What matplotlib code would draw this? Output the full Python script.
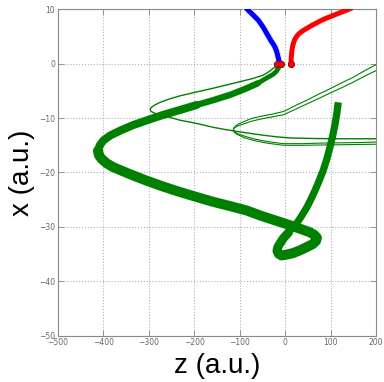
import matplotlib
matplotlib.use("Agg")
import matplotlib.pyplot as plt

# ---- data (z, x) ----
blue_z = [-83, -77, -71, -65, -59, -54, -49, -44, -40, -35, -31, -26, -22, -18, -15.4, -13.5, -12]
blue_x = [10, 9.5, 9, 8.5, 8, 7.4, 6.8, 6.1, 5.5, 4.8, 4.2, 3.6, 3, 2.1, 1.2, 0.5, 0]

red_z = [13, 13.2, 13.6, 14.2, 15.0, 16.0, 17.2, 18.5, 20.5, 23, 26, 30, 35, 41, 48, 56, 65, 75, 86, 98, 110, 122, 133, 143]
red_x = [0, 0.6, 1.2, 1.8, 2.4, 2.9, 3.4, 3.8, 4.3, 4.7, 5.1, 5.45, 5.8, 6.15, 6.5, 6.9, 7.3, 7.75, 8.2, 8.6, 9.0, 9.4, 9.75, 10.1]

dots_z = [-18, -10, 13]
dots_x = [0, 0, 0]

# thick trajectory (one continuous path)
thick_z = [-11, -14, -19, -27, -40, -60, -84, -120, -158, -195, -231, -268, -304, -335, -363, -385, -400, -408,
           -412, -410, -404, -393, -379, -342, -305, -268, -231, -195, -158, -120, -84, -55, -22, 11, 35, 55, 65, 70,
           68, 60, 48, 33, 18, 3, -8, -15, -18, -16, -11, -3, 7, 16, 26, 37, 48, 57, 66, 75, 84, 92, 99, 105, 110, 114, 117]
thick_x = [0, -0.7, -1.4, -2.0, -2.6, -3.6, -4.5, -5.7, -6.7, -7.6, -8.5, -9.4, -10.4, -11.3, -12.3, -13.2, -14.1, -15.0,
           -16.0, -16.8, -17.5, -18.3, -19.0, -20.3, -21.5, -22.6, -23.6, -24.5, -25.4, -26.2, -27.0, -27.9, -28.8, -29.7, -30.4, -31.0, -31.5, -32.0,
           -32.6, -33.2, -33.7, -34.3, -34.8, -35.1, -35.25, -35.0, -34.4, -33.7, -33.0, -32.0, -31.1, -30.2, -29.3, -27.9, -26.4, -24.9, -23.3, -21.5, -19.6, -17.5, -15.3, -13.2, -11.1, -9.1, -7.1]

thinA_z = [-15, -20, -27, -33, -40, -48, -70, -99, -128, -158, -195, -231, -255, -275, -287, -293, -296, -297,
           -295, -290, -280, -268, -250, -231, -212, -194, -176, -158, -132, -106, -78, -48, -18, 11, 60, 110, 155, 202]
thinA_x = [0, -0.5, -0.9, -1.3, -1.7, -2.1, -2.7, -3.3, -3.9, -4.5, -5.2, -5.9, -6.5, -7.1, -7.6, -7.95, -8.2, -8.45,
           -8.75, -9.0, -9.3, -9.6, -9.95, -10.4, -10.7, -11.0, -11.35, -11.7, -12.1, -12.45, -12.8, -13.15, -13.45, -13.65, -13.75, -13.8, -13.8, -13.8]

thinB1_z = [202, 175, 150, 125, 99, 74, 48, 25, 4, -4, -30, -55, -75, -92, -103, -110, -113, -114,
            -112, -108, -103, -90, -70, -40, -4, 40, 77, 120, 160, 202]
thinB1_x = [-0.1, -1.3, -2.5, -3.5, -4.6, -5.6, -6.7, -7.6, -8.5, -8.8, -9.3, -9.7, -10.1, -10.7, -11.1, -11.5, -11.8, -12.1,
            -12.4, -12.7, -12.9, -13.3, -13.8, -14.3, -14.7, -14.7, -14.6, -14.55, -14.5, -14.4]
thinB2_z = [202, 175, 150, 125, 99, 74, 48, 25, 4, -4, -30, -55, -75, -92, -103, -110, -113, -114,
            -112, -108, -103, -90, -70, -40, -4, 40, 77, 120, 160, 202]
thinB2_x = [-1.2, -2.3, -3.4, -4.4, -5.4, -6.4, -7.4, -8.3, -9.1, -9.4, -9.8, -10.2, -10.6, -11.1, -11.4, -11.7, -11.95, -12.2,
            -12.6, -12.9, -13.1, -13.6, -14.1, -14.6, -15.0, -15.0, -14.95, -14.9, -14.85, -14.8]

xticks = [-500, -400, -300, -200, -100, 0, 100, 200]
yticks = [-50, -40, -30, -20, -10, 0, 10]

fig = plt.figure(figsize=(3.84, 3.82), dpi=100)
ax = fig.add_axes([0.151, 0.1212, 0.828, 0.8545])

green = "#008000"
ax.plot(thinA_z, thinA_x, color=green, lw=1.0, zorder=2)
ax.plot(thinB1_z, thinB1_x, color=green, lw=0.8, zorder=2)
ax.plot(thinB2_z, thinB2_x, color=green, lw=0.8, zorder=2)

# thick path drawn in a few pieces of slightly different width (style only)
pieces = [(0, 6, 3.4, "round"), (5, 10, 4.6, "round"), (9, 19, 5.8, "round"),
          (18, 45, 7.2, "round"), (44, 51, 6.4, "round"), (50, len(thick_z), 5.2, "butt")]
for a, b, lw, cap in pieces:
    ax.plot(thick_z[a:b], thick_x[a:b], color=green, lw=lw,
            solid_capstyle=cap, solid_joinstyle="round", zorder=3)

ax.plot(blue_z, blue_x, color="#e6e6ff", lw=5.0, zorder=3)
ax.plot(blue_z, blue_x, color="blue", lw=3.6, zorder=4)
ax.plot(red_z, red_x, color="red", lw=3.6, zorder=4)
ax.plot(dots_z, dots_x, "o", color="red", mec="#800000", mew=0.6, ms=4.5, zorder=5)

ax.set_xlim(-500, 200)
ax.set_ylim(-50, 10)
ax.set_xticks(xticks)
ax.set_yticks(yticks)
ax.grid(True, color="#b0b0b0", linestyle=":", linewidth=0.8)
for s in ax.spines.values():
    s.set_color("#888888")
ax.tick_params(direction="in", length=4, width=0.6, colors="#888888",
               labelsize=5.5, labelcolor="#666666", top=True, right=True, pad=2)

ax.set_xlabel("z (a.u.)", fontsize=20, family="Liberation Sans", labelpad=4)
ax.set_ylabel("x (a.u.)", fontsize=20, family="Liberation Sans", labelpad=3)

fig.savefig("out.png", dpi=100)
